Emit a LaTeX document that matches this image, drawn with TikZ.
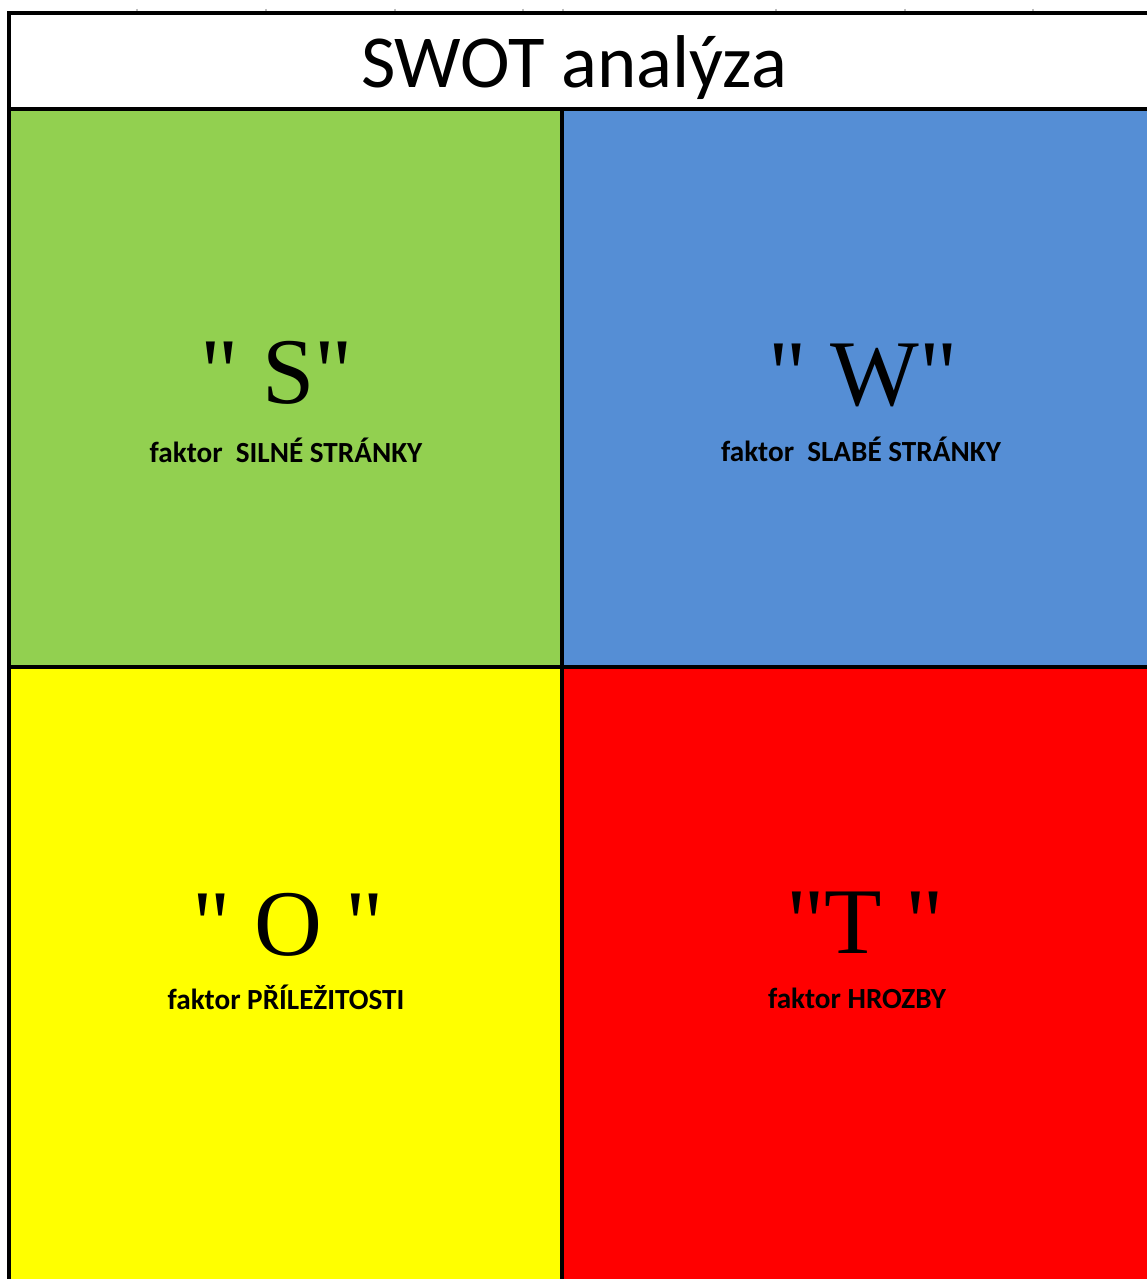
\documentclass[tikz,border=0pt]{standalone}
\usepackage{fontspec}
\setmainfont{Carlito}
\newfontfamily\bigserif{Liberation Serif}
\definecolor{swotgreen}{HTML}{92D050}
\definecolor{swotblue}{HTML}{558ED5}
\definecolor{swotyellow}{HTML}{FFFF00}
\definecolor{swotred}{HTML}{FF0000}
\tikzset{
  gridline/.style={line width=1.6pt, black},
  titletext/.style={anchor=base, inner sep=0pt, font=\fontsize{37.4}{42}\selectfont},
  letter/.style={anchor=base, inner sep=0pt, font=\bigserif\fontsize{47}{52}\selectfont},
  factor/.style={anchor=base, inner sep=0pt, font=\bfseries\fontsize{14.6}{17}\selectfont},
  tick/.style={line width=0.8pt, black!25}
}
\begin{document}
\begin{tikzpicture}[x=0.5pt,y=-0.5pt]
\useasboundingbox (0,0) rectangle (1147,1279);
\fill[white] (0,0) rectangle (1147,1279);
% quadrants
\fill[swotgreen]  (9,109)   rectangle (562,667);
\fill[swotblue]   (562,109) rectangle (1147,667);
\fill[swotyellow] (9,667)   rectangle (562,1279);
\fill[swotred]    (562,667) rectangle (1147,1279);
% faint marks on top edge
\foreach \x in {137,266,395,523,563,776,905,1033}
  \draw[tick] (\x,9) -- (\x,11);
% frame and grid lines
\draw[gridline] (1147,13) -- (9,13) -- (9,1279);
\draw[gridline] (9,109) -- (1147,109);
\draw[gridline] (562,109) -- (562,1279);
\draw[gridline] (9,667) -- (1147,667);
% title
\node[titletext] (title) at (574,88) {SWOT analýza};
% S
\node[letter] (s) at (277,403) {"\ S"};
\node[factor] (sl) at (286,462) {faktor\ \ SILNÉ STRÁNKY};
% W
\node[letter] (w) at (863,405) {"\ W"};
\node[factor] (wl) at (861,461) {faktor\ \ SLABÉ STRÁNKY};
% O
\node[letter] (o) at (288,955) {"\ O\ "};
\node[factor] (ol) at (286,1009) {faktor PŘÍLEŽITOSTI};
% T
\node[letter] (t) at (865,953) {"T\ "};
\node[factor] (tl) at (857,1008) {faktor HROZBY};
\end{tikzpicture}
\end{document}
